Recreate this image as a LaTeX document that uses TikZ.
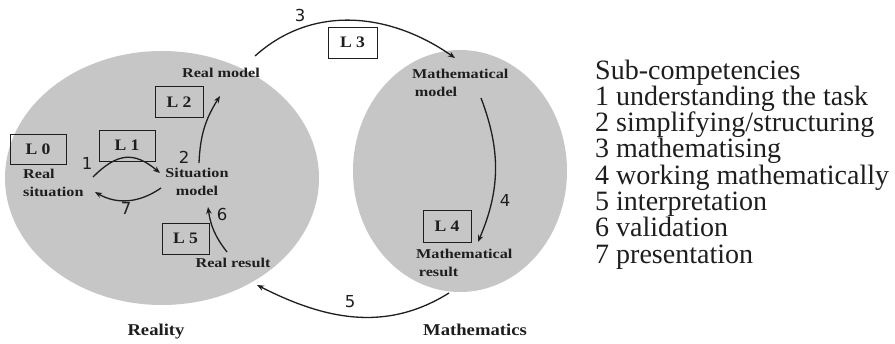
\documentclass[tikz,border=0pt]{standalone}
\usepackage{fontspec}
\usepackage{graphicx}
\setmainfont{Liberation Serif}
\newfontfamily\numfont{DejaVu Sans}
\usetikzlibrary{arrows.meta}
\definecolor{ellgray}{RGB}{198,198,198}
\definecolor{ink}{RGB}{30,30,30}
\newcommand{\hs}[2][1.2]{\scalebox{#1}[1]{#2}}
\begin{document}
\begin{tikzpicture}[x=1pt,y=-1pt,
  lbl/.style={inner sep=0pt, text=ink, font=\fontsize{13.5}{18}\selectfont\bfseries},
  big/.style={inner sep=0pt, text=ink, font=\fontsize{16.5}{18}\selectfont\bfseries},
  lvl/.style={draw=ink, line width=0.9pt, inner sep=0pt, minimum width=48pt, minimum height=31pt, font=\fontsize{16}{18}\selectfont\bfseries, text=ink},
  num/.style={inner sep=0pt, text=ink, font=\numfont\fontsize{16.5}{18}\selectfont},
  conn/.style={draw=ink, line width=1.3pt, -{Stealth[length=7pt,width=5.5pt]}},
  listitem/.style={anchor=base west, inner sep=0pt, text=ink, font=\fontsize{28}{30}\selectfont}]
\useasboundingbox[fill=white] (0,0) rectangle (895,343);
% regions
\fill[ellgray] (162,178) ellipse [x radius=157pt, y radius=127pt];
\fill[ellgray] (460,171) ellipse [x radius=107pt, y radius=121pt];
% level boxes
\node[lvl, minimum width=56pt, minimum height=30pt] (L0) at (38,149) {\hs[1.1]{L 0}};
\node[lvl, minimum width=56pt] (L1) at (127,145.5) {\hs[1.1]{L 1}};
\node[lvl] (L2) at (179,102) {\hs[1.1]{L 2}};
\node[lvl, minimum width=49pt] (L3) at (352.5,42.5) {\hs[1.1]{L 3}};
\node[lvl, minimum height=32pt] (L4) at (447,226) {\hs[1.1]{L 4}};
\node[lvl, minimum width=47pt] (L5) at (185.5,238.5) {\hs[1.1]{L 5}};
% labels
\node[lbl, anchor=west] (rs) at (23,184) {\hs{\begin{tabular}{@{}l@{}}Real\\situation\end{tabular}}};
\node[lbl] (sm) at (197,183) {\hs{\begin{tabular}{@{}c@{}}Situation\\model\end{tabular}}};
\node[lbl] (rm) at (221,73) {\hs{Real model}};
\node[lbl] (rr) at (233,263) {\hs{Real result}};
\node[lbl, anchor=west] (mm) at (412,83.5) {\hs{\begin{tabular}{@{}l@{}}Mathematical\\\,model\end{tabular}}};
\node[lbl, anchor=west] (mr) at (416,264) {\hs{\begin{tabular}{@{}l@{}}Mathematical\\\,result\end{tabular}}};
\node[big] (reality) at (156,332) {\hs[1.13]{Reality}};
\node[big] (maths) at (475,330) {\hs[1.13]{Mathematics}};
% numbers
\node[num] (n1) at (87,163) {1};
\node[num] (n2) at (184,157) {2};
\node[num] (n3) at (300,15) {3};
\node[num] (n4) at (505,200) {4};
\node[num] (n5) at (350,302) {5};
\node[num] (n6) at (222,214) {6};
\node[num] (n7) at (126,208) {7};
% connector end points
\coordinate (a1s) at (93,177);  \coordinate (a1e) at (160,173);
\coordinate (a7s) at (161,188); \coordinate (a7e) at (95,192);
\coordinate (a2s) at (199,163); \coordinate (a2e) at (220,96);
\coordinate (a6s) at (227,252); \coordinate (a6e) at (208,207);
\coordinate (a3s) at (255,56);  \coordinate (a3e) at (455,58);
\coordinate (a4s) at (481,98);  \coordinate (a4e) at (478,242);
\coordinate (a5s) at (449,293); \coordinate (a5e) at (257,285);
% connectors
\draw[conn] (a1s) to[out=45,in=140,looseness=1.3] (a1e);
\draw[conn] (a7s) to[out=-145,in=-30] (a7e);
\draw[conn] (a2s) to[bend left=15] (a2e);
\draw[conn] (a6s) to[bend left=15] (a6e);
\draw[conn] (a3s) to[out=42,in=145] (a3e);
\draw[conn] (a4s) to[bend left=22] (a4e);
\draw[conn] (a5s) to[out=-148,in=-27] (a5e);
% legend
\foreach \i/\t in {0/{Sub-competencies},1/{1 understanding the task},2/{2 simplifying/structuring},3/{3 mathematising},4/{4 working mathematically},5/{5 interpretation},6/{6 validation},7/{7 presentation}}
  \node[listitem] (s\i) at (595,{79+26.3*\i}) {\t};
\end{tikzpicture}
\end{document}
